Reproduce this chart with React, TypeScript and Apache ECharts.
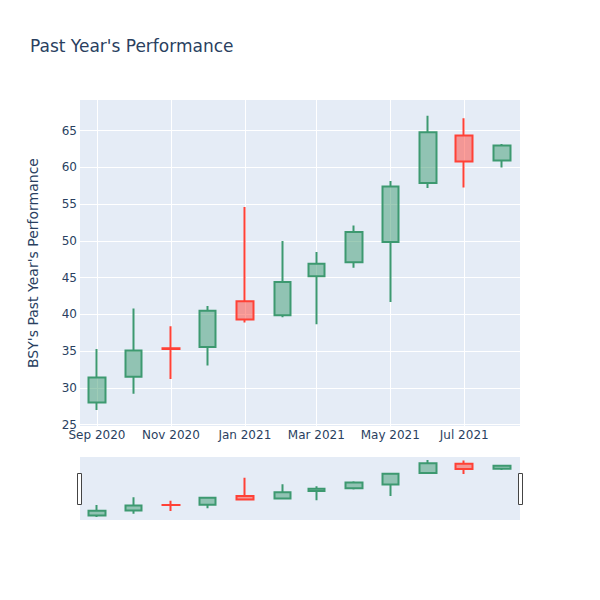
import React, { useEffect, useRef } from "react";
import * as echarts from "echarts";

const dates = [
  "2020-09-01", "2020-10-01", "2020-11-01", "2020-12-01", "2021-01-01", "2021-02-01",
  "2021-03-01", "2021-04-01", "2021-05-01", "2021-06-01", "2021-07-01", "2021-08-01",
];
const opens = [28.0, 31.5, 35.4, 35.55, 41.8, 39.9, 45.2, 47.1, 49.85, 57.9, 64.35, 60.95];
const closes = [31.4, 35.1, 35.3, 40.5, 39.3, 44.4, 46.9, 51.2, 57.4, 64.8, 60.8, 63.0];
const lows = [27.0, 29.2, 31.2, 33.05, 38.9, 39.6, 38.65, 46.35, 41.7, 57.2, 57.26, 60.0];
const highs = [35.3, 40.8, 38.4, 41.15, 54.6, 50.0, 48.5, 52.1, 58.17, 67.05, 66.7, 63.2];

const yTicks = [25, 30, 35, 40, 45, 50, 55, 60, 65];
const xTickDates = ["2020-09-01", "2020-11-01", "2021-01-01", "2021-03-01", "2021-05-01", "2021-07-01"];
const xRange = ["2020-08-18", "2021-08-16"];
const yRange = [24.81, 69.18];

const monthNames = ["Jan", "Feb", "Mar", "Apr", "May", "Jun", "Jul", "Aug", "Sep", "Oct", "Nov", "Dec"];

function toTime(s: string): number {
  const [y, m, d] = s.split("-").map(Number);
  return new Date(y, m - 1, d).getTime();
}

const TEXT = "#2a3f5f";
const FONT = "DejaVu Sans";
const UP = "#3D9970";
const DOWN = "#FF4136";

export default function App() {
  const ref = useRef<HTMLDivElement>(null);
  useEffect(() => {
    if (!ref.current) return;
    const chart = echarts.init(ref.current, undefined, { renderer: "svg" });
    const data = dates.map((d, i) => [toTime(d), opens[i], closes[i], lows[i], highs[i]]);
    const xTicks = xTickDates.map(toTime);
    const xMin = toTime(xRange[0]);
    const xMax = toTime(xRange[1]);
    const itemStyle = {
      color: "rgba(61,153,112,0.5)",
      color0: "rgba(255,65,54,0.5)",
      borderColor: UP,
      borderColor0: DOWN,
      borderWidth: 2,
    };
    chart.setOption({
      animation: false,
      textStyle: { fontFamily: FONT },
      title: {
        text: "Past Year's Performance",
        left: 25,
        top: 32,
        textStyle: { fontFamily: FONT, fontSize: 17, fontWeight: "normal", color: TEXT },
      },
      graphic: [
        {
          type: "rect",
          z: -10,
          shape: { x: 80, y: 100, width: 440, height: 326 },
          style: { fill: "#E5ECF6" },
          silent: true,
        },
        {
          type: "rect",
          z: -10,
          shape: { x: 80, y: 457, width: 440, height: 63 },
          style: { fill: "#E5ECF6" },
          silent: true,
        },
        {
          type: "rect",
          z: 100,
          shape: { x: 77.5, y: 473.5, width: 4, height: 31 },
          style: { fill: "#fff", stroke: "#444", lineWidth: 1 },
        },
        {
          type: "rect",
          z: 100,
          shape: { x: 518.5, y: 473.5, width: 4, height: 31 },
          style: { fill: "#fff", stroke: "#444", lineWidth: 1 },
        },
      ],
      grid: [
        { left: 80, width: 440, top: 100, height: 326 },
        { left: 80, width: 440, top: 457, height: 63 },
      ],
      xAxis: [
        {
          type: "value",
          gridIndex: 0,
          min: xMin,
          max: xMax,
          axisLine: { show: false },
          axisTick: { show: false, customValues: xTicks },
          axisLabel: {
            customValues: xTicks,
            color: TEXT,
            fontSize: 12,
            fontFamily: FONT,
            margin: 3,
            hideOverlap: false,
            formatter: (v: number) => {
              const d = new Date(v);
              return monthNames[d.getMonth()] + " " + d.getFullYear();
            },
          },
          splitLine: { show: true, lineStyle: { color: "#ffffff", width: 1 } },
        },
        {
          type: "value",
          gridIndex: 1,
          min: xMin,
          max: xMax,
          axisLine: { show: false },
          axisTick: { show: false },
          axisLabel: { show: false },
          splitLine: { show: false },
        },
      ],
      yAxis: [
        {
          type: "value",
          gridIndex: 0,
          min: yRange[0],
          max: yRange[1],
          name: "BSY's Past Year's Performance",
          nameLocation: "middle",
          nameGap: 40,
          nameTextStyle: { color: TEXT, fontSize: 14, fontFamily: FONT },
          axisLine: { show: false },
          axisTick: { show: false, customValues: yTicks },
          axisLabel: {
            customValues: yTicks,
            color: TEXT,
            fontSize: 12,
            fontFamily: FONT,
            margin: 3,
          },
          splitLine: { show: true, lineStyle: { color: "#ffffff", width: 1 } },
        },
        {
          type: "value",
          gridIndex: 1,
          min: yRange[0],
          max: yRange[1],
          axisLine: { show: false },
          axisTick: { show: false },
          axisLabel: { show: false },
          splitLine: { show: false },
        },
      ],
      series: [
        {
          type: "candlestick",
          xAxisIndex: 0,
          yAxisIndex: 0,
          barWidth: 17,
          data,
          itemStyle,
        },
        {
          type: "candlestick",
          xAxisIndex: 1,
          yAxisIndex: 1,
          barWidth: 17,
          data,
          itemStyle,
        },
      ],
    });
    return () => chart.dispose();
  }, []);
  return <div ref={ref} style={{ width: 600, height: 600, margin: -8 }} />;
}
